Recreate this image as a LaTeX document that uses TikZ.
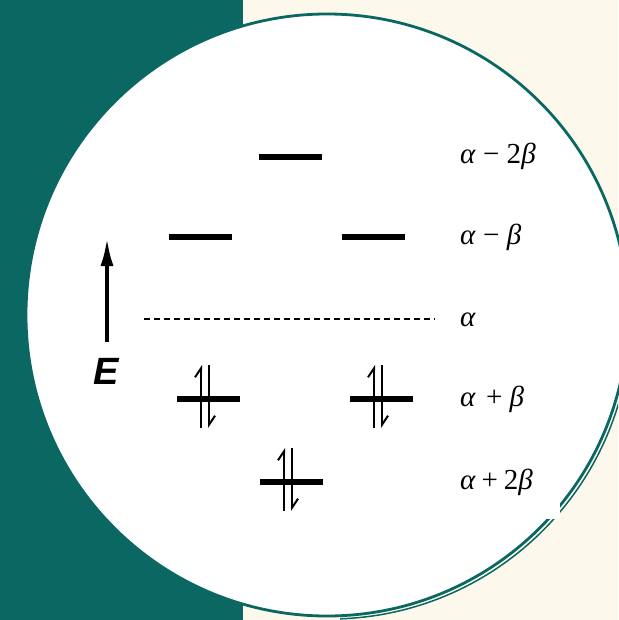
\documentclass[tikz,border=0pt]{standalone}
\usepackage{fontspec}
\setmainfont{Liberation Serif}
\newfontfamily\efont{Liberation Sans}
\usepackage{tikz}
\usetikzlibrary{arrows.meta,positioning}
\usepackage{xcolor}
\definecolor{bgteal}{HTML}{0B6762}
\definecolor{cream}{HTML}{FDF8EC}

\begin{document}
\begin{tikzpicture}[
  x=1pt, y=-1pt,
  lvl/.style={fill=black, inner sep=0pt, minimum width=63pt, minimum height=6pt},
  lbl/.style={anchor=base west, inner sep=0pt, font=\fontsize{29}{32}\selectfont},
  spin/.style={line width=1.6pt, -{Straight Barb[left,length=9pt,width=12pt,line width=2pt]}},
  arrow/.style={-{Latex[length=28pt,width=13pt]}, line width=3.6pt}
]
\useasboundingbox (0,0) rectangle (618,620);
% background and disc
\fill[cream] (0,0) rectangle (618,620);
\fill[bgteal] (0,0) rectangle (243,620);
\node[circle, draw=bgteal, fill=white, line width=2.8pt, minimum size=602pt, inner sep=0pt] (disc) at (327,315) {};
\begin{scope}
  \clip (340,330) rectangle (618,620);
  \draw[bgteal, line width=1.5pt] ([shift={(2.5,2.5)}]disc.center) circle (301.5pt);
\end{scope}
\fill[white] (470,460) rectangle (560,519);

% energy levels
\node[lvl] (ab2) at (290,157) {};
\node[lvl] (ab1l) at (200,237) {};
\node[lvl] (ab1r) at (373,237) {};
\node[lvl] (bb1l) at (208,399) {};
\node[lvl] (bb1r) at (381,399) {};
\node[lvl] (bb2) at (291,482) {};
\coordinate (nb0) at (144,319);
\coordinate (nb1) at (435,319);
\draw[line width=1.7pt, dash pattern=on 6pt off 4pt] (nb0) -- (nb1);

% electron pairs
\foreach \n in {bb1l,bb1r,bb2} {
  \draw[spin] ([xshift=-7pt,yshift=-29pt]\n.center) -- ([xshift=-7pt,yshift=34pt]\n.center);
  \draw[spin] ([xshift=1pt,yshift=34pt]\n.center) -- ([xshift=1pt,yshift=-29pt]\n.center);
}

% energy axis
\coordinate (etail) at (107,342);
\coordinate (ehead) at (107,238);
\draw[arrow] (etail) -- (ehead);
\node[inner sep=0pt, font=\efont\bfseries\itshape\fontsize{38}{40}\selectfont] (elbl) at (106,371) {E};

% labels
\node[lbl] (lab2) at (460,164) {\textit{α} − 2\textit{β}};
\node[lbl] (lab1) at (460,244) {\textit{α} − \textit{β}};
\node[lbl] (lab0) at (460,326) {\textit{α}};
\node[lbl] (lbb1) at (460,406) {\textit{α}\hspace{0.1em} + \textit{β}};
\node[lbl] (lbb2) at (460,489) {\textit{α}\hspace{0.2em}+\hspace{0.2em}2\textit{β}};
\end{tikzpicture}
\end{document}
